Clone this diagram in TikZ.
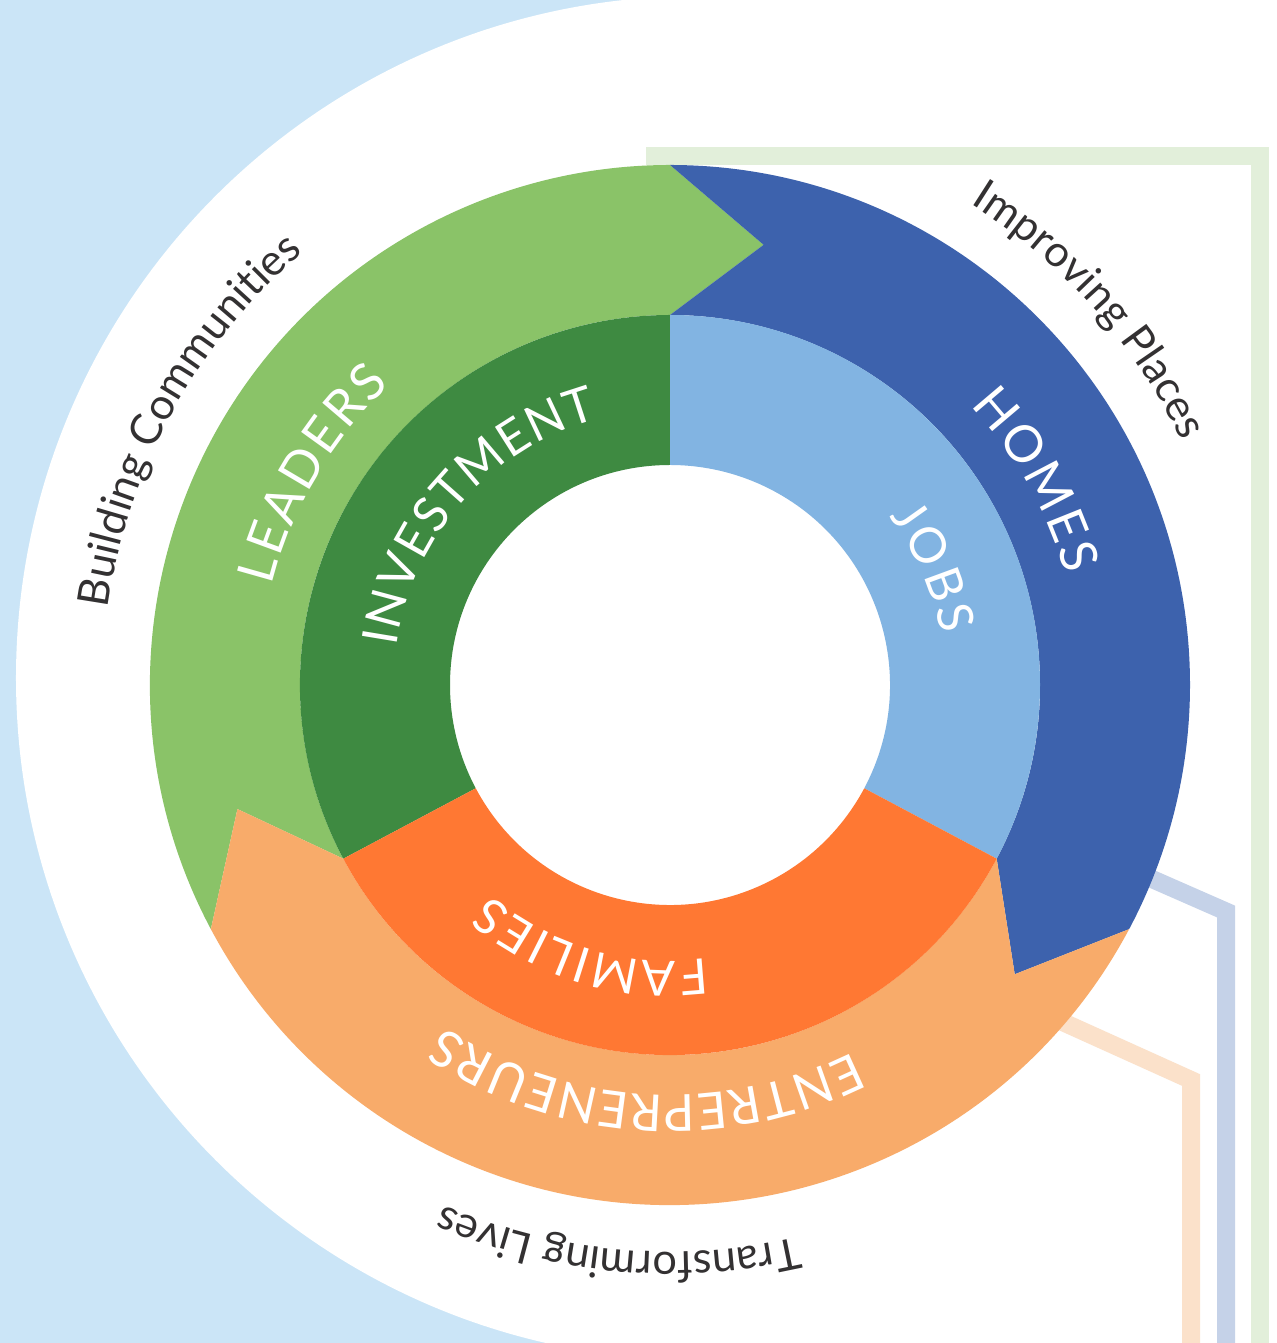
\documentclass[tikz,border=0pt]{standalone}
\usepackage{fontspec}
\setmainfont{Lato}
\usetikzlibrary{decorations.text}

\definecolor{skyback}{HTML}{CBE5F7}
\definecolor{leadgreen}{HTML}{8AC368}
\definecolor{homeblue}{HTML}{3D62AD}
\definecolor{entorange}{HTML}{F8AB6A}
\definecolor{invgreen}{HTML}{3E8A41}
\definecolor{jobblue}{HTML}{82B4E2}
\definecolor{famorange}{HTML}{FF7833}
\definecolor{greenline}{HTML}{E2EFDA}
\definecolor{blueline}{HTML}{C5D2E8}
\definecolor{orangeline}{HTML}{FBE1CA}
\definecolor{captext}{HTML}{333132}

\begin{document}
\begin{tikzpicture}[
		ringlabel/.style={decorate, decoration={text along path, text align={fit to path},
			text={|\fontsize{14.5}{17}\selectfont\color{white}|#1}}},
		innerlabel/.style={decorate, decoration={text along path, text align={fit to path},
			text={|\fontsize{14}{17}\selectfont\color{white}|#1}}},
		bandlabel/.style={decorate, decoration={text along path, text align=center,
			text={|\fontsize{12.3}{14}\selectfont\color{captext}|#1}}},
		band/.style={line width=0.18cm, miter limit=10}
	]
		\newcommand{\rin}{2.2}
		\newcommand{\rmid}{3.7}
		\newcommand{\rout}{5.2}
		\newcommand{\rtip}{4.5} % radius of the arrow tips
		\newcommand{\tipang}{12}
		\newcommand{\rlab}{4.1}
		\newcommand{\rinlab}{2.76}
		\newcommand{\rbandlab}{5.67}

		% background
		\useasboundingbox (-6.70,-6.58) rectangle (6.06,6.85);
		\fill[skyback] (-6.70,-6.58) rectangle (6.06,6.85);
		\fill[white] (0.28,0.07) circle[radius=6.82];
		\fill[white] (0.28,-6.7) rectangle (6.2,7);

		% bands leaving the ring
		\draw[band, greenline] (-0.24,5.29) -- (5.897,5.29) -- (5.897,-6.8);
		\draw[band, blueline] (4.186,-1.662) -- (5.56,-2.265) -- (5.56,-6.8);
		\draw[band, orangeline] (3.66,-3.25) -- (5.21,-3.95) -- (5.21,-6.8);

		% outer arrows
		\foreach \a/\b/\col in {208/90/leadgreen, 90/-28/homeblue, -28/-152/entorange}
			\fill[\col] (\a:\rout) arc[start angle=\a, end angle=\b, radius=\rout]
				-- ({\b-\tipang}:\rtip) -- (\b:\rmid)
				arc[start angle=\b, end angle=\a, radius=\rmid]
				-- ({\a-\tipang}:\rtip) -- cycle;

		% inner ring
		\foreach \a/\b/\col in {208/90/invgreen, 90/-28/jobblue, -28/-152/famorange}
			\fill[\col] (\a:\rin) -- (\a:\rmid) arc[start angle=\a, end angle=\b, radius=\rmid]
				-- (\b:\rin) arc[start angle=\b, end angle=\a, radius=\rin] -- cycle;

		% ring labels
		\path[ringlabel=LEADERS] (166:\rlab) arc[start angle=166, end angle=133, radius=\rlab];
		\path[ringlabel=HOMES] (43:\rlab) arc[start angle=43, end angle=15.5, radius=\rlab];
		\path[ringlabel=ENTREPRENEURS] (-63.5:\rlab) arc[start angle=-63.5, end angle=-123.5, radius=\rlab];
		\path[innerlabel=INVESTMENT] (172:\rinlab) arc[start angle=172, end angle=105, radius=\rinlab];
		\path[innerlabel=JOBS] (37.5:\rinlab) arc[start angle=37.5, end angle=10.5, radius=\rinlab];
		\path[innerlabel=FAMILIES] (-82.5:\rinlab) arc[start angle=-82.5, end angle=-130.5, radius=\rinlab];

		% outer captions
		\path[bandlabel={Building Communities}] (191.25:\rbandlab) arc[start angle=191.25, end angle=111.25, radius=\rbandlab];
		\path[bandlabel={Improving Places}] (81.75:\rbandlab) arc[start angle=81.75, end angle=1.75, radius=\rbandlab];
		\path[bandlabel={Transforming Lives}] (-55.3:\rbandlab) arc[start angle=-55.3, end angle=-135.3, radius=\rbandlab];
\end{tikzpicture}
\end{document}
